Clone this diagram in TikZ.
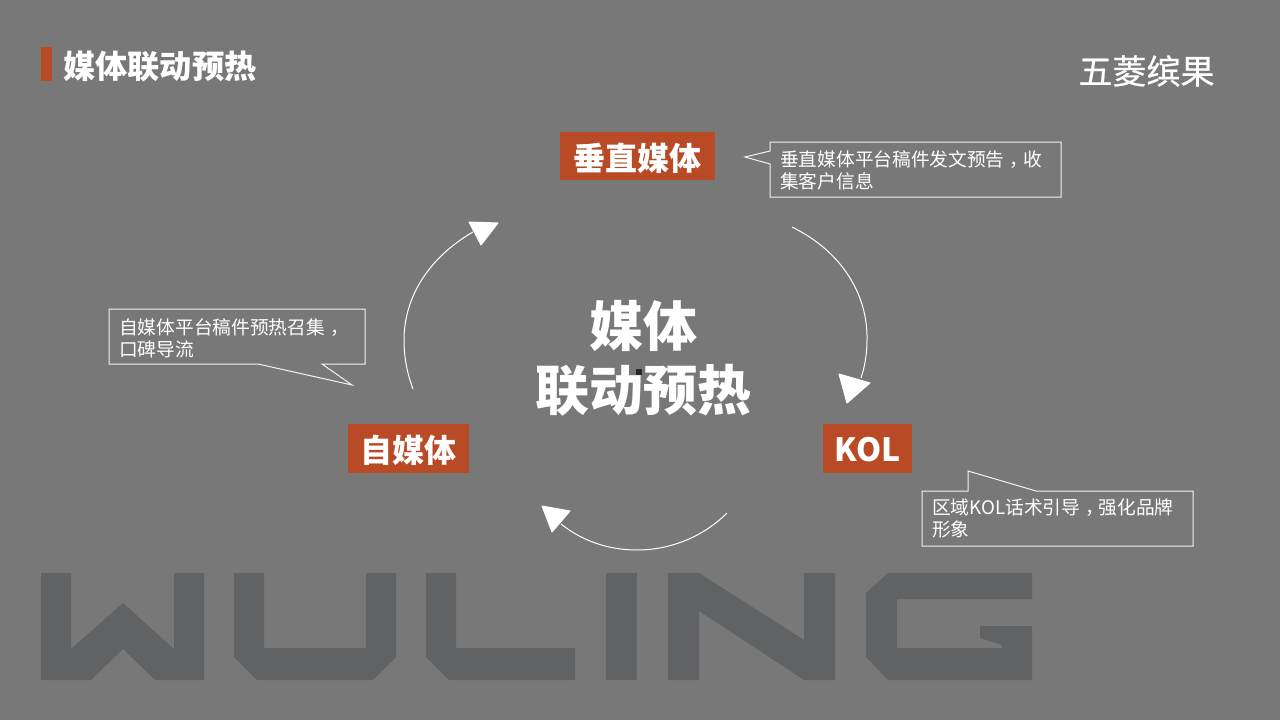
\documentclass[tikz,border=0pt]{standalone}
\usepackage{fontspec}
\setmainfont{Noto Sans CJK SC}
\newfontfamily\brandfont[FakeBold=0.6]{Noto Sans CJK SC}
\definecolor{slide}{HTML}{787878}
\definecolor{rust}{HTML}{B84A26}
\definecolor{wordmark}{HTML}{616263}
\definecolor{speck}{HTML}{1E2B28}
% Full-width comma set in the middle of its cell
\newcommand{\midcomma}{\hspace{.28em}\makebox[.72em][l]{，}}
\tikzset{
  x=1pt,y=-1pt,
  stage/.style={fill=rust,inner sep=0pt,anchor=center},
  stagetext/.style={text=white,font=\fontsize{32}{36}\selectfont\bfseries,inner sep=0pt},
  note/.style={text=white,font=\fontsize{18.7}{22}\selectfont,align=left,anchor=north west,inner sep=0pt},
  bubble/.style={draw=white!90!slide,line width=1pt,line join=miter},
  loopline/.style={draw=white,line width=1pt},
  loophead/.style={fill=white,draw=white,line width=1pt,line join=round},
  letter/.style={fill=wordmark}
}
\begin{document}
\begin{tikzpicture}
\useasboundingbox (0,0) rectangle (1280,720);
\fill[slide] (0,0) rectangle (1280,720);

% WULING wordmark
\fill[letter] (41,573)--(71,573)--(71,649)--(123,603)--(174,649)--(174,573)--(204,573)--(204,680)--(155,680)--(123,649)--(91,680)--(41,680)--cycle;
\fill[letter] (234,573)--(264,573)--(264,648)--(366,648)--(366,573)--(396,573)--(396,657)--(373,680)--(257,680)--(234,657)--cycle;
\fill[letter] (426,573)--(456,573)--(456,648)--(575,648)--(575,680)--(449,680)--(426,657)--cycle;
\fill[letter] (606,573) rectangle (637,680);
\fill[letter] (668,573)--(699,573)--(804,640)--(804,573)--(835,573)--(835,680)--(804,680)--(699,611)--(699,680)--(668,680)--cycle;
\fill[letter] (888,573)--(1032,573)--(1032,599)--(897,599)--(897,648)--(1002,648)--(1002,645)--(980,638)--(980,626)--(1032,626)--(1032,680)--(888,680)--(866,657)--(866,593)--cycle;

% Header
\fill[rust] (41,47) rectangle (52,81);
\node[text=white,font=\fontsize{32.2}{36}\selectfont\bfseries,anchor=west,inner sep=0pt] (title) at (63,66) {媒体联动预热};
\node[text=white,font=\fontsize{34}{36}\selectfont\brandfont,inner sep=0pt] (brand) at (1146.5,71) {五菱缤果};

% Central label
\node[text=white,font=\fontsize{54}{64}\selectfont\bfseries,align=center,inner sep=0pt] (hub) at (643.5,358.5) {媒体\\联动预热};
\fill[speck] (636,369) rectangle (642,375);

% Stages
\node[stage,minimum width=155pt,minimum height=48pt] (vertical) at (637.5,156) {};
\node[stagetext] (verticaltext) at (637.5,158) {垂直媒体};
\node[stage,minimum width=89pt,minimum height=49pt] (kol) at (867.5,448.5) {};
\node[stagetext] (koltext) at (867.5,449.5) {KOL};
\node[stage,minimum width=121pt,minimum height=49pt] (own) at (408.5,448.5) {};
\node[stagetext] (owntext) at (408.5,450.5) {自媒体};

% Cycle arcs
\coordinate (r0) at (792,227); \coordinate (r1) at (867,340); \coordinate (r2) at (861,378);
\coordinate (b0) at (727,513); \coordinate (b1) at (637,550); \coordinate (b2) at (561,524);
\coordinate (l0) at (413,389); \coordinate (l1) at (404,340); \coordinate (l2) at (473,232);
\draw[loopline] (r0) .. controls (843,252) and (868,296) .. (r1) .. controls (867,353) and (865,366) .. (r2);
\draw[loopline] (b0) .. controls (703,537) and (670,550) .. (b1) .. controls (607,550) and (581,540) .. (b2);
\draw[loopline] (l0) .. controls (407,373) and (404,357) .. (l1) .. controls (404,298) and (428,258) .. (l2);
\draw[loophead] (839,374)--(870,383)--(847,403)--cycle;
\draw[loophead] (542,506)--(570,511)--(552,532)--cycle;
\draw[loophead] (469,222)--(498,223)--(481,245)--cycle;

% Callouts
\draw[bubble] (770,142)--(1061,142)--(1061,197)--(770,197)--(770,164)--(745,157)--(770,151)--cycle;
\node[note] (noteA) at (780,150) {垂直媒体平台稿件发文预告\midcomma 收\\集客户信息};
\draw[bubble] (109,309)--(365,309)--(365,364)--(322,364)--(352,385)--(258,364)--(109,364)--cycle;
\node[note] (noteB) at (119,318) {自媒体平台稿件预热召集\midcomma\\口碑导流};
\draw[bubble] (922,491)--(968,491)--(968,471)--(1036,491)--(1193,491)--(1193,546)--(922,546)--cycle;
\node[note] (noteC) at (932,499) {区域KOL话术引导\midcomma 强化品牌\\形象};
\end{tikzpicture}
\end{document}
